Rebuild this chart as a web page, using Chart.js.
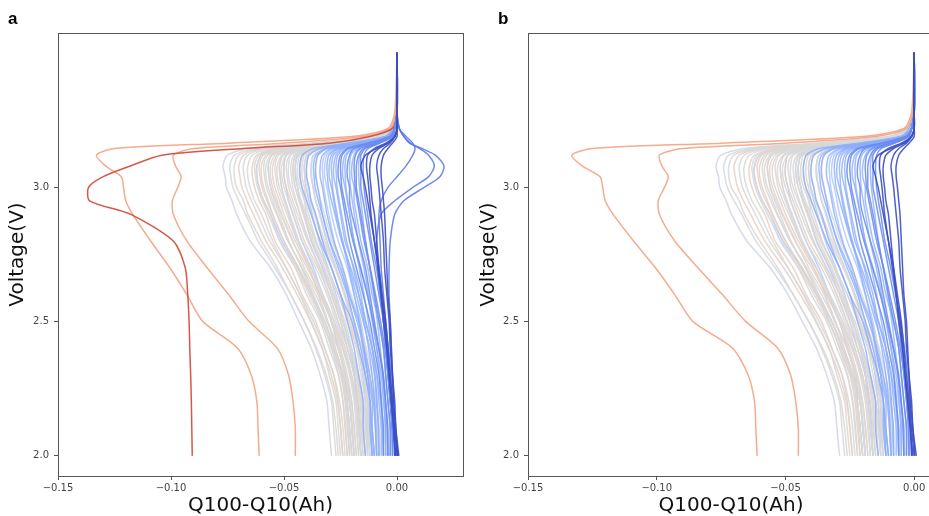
<!DOCTYPE html>
<html>
<head>
<meta charset="utf-8">
<script src="https://cdn.jsdelivr.net/npm/chart.js@4.4.1/dist/chart.umd.min.js"></script>
<style>
  html, body { margin: 0; padding: 0; background: #fff; }
  body { width: 929px; height: 516px; overflow: hidden; position: relative; }
  canvas { position: absolute; top: 0; }
  .tag { position: absolute; z-index: 2; font: bold 17px "Liberation Sans", Arial, sans-serif; line-height: 17px; color: #000; }
</style>
</head>
<body>
<canvas id="panelA" width="470" height="516" style="left:0"></canvas>
<canvas id="panelB" width="462" height="516" style="left:478px"></canvas>
<div class="tag" style="left:8px;top:10px">a</div>
<div class="tag" style="left:498px;top:10px">b</div>
<script>
// voltage steps shared by every discharge curve (top of the sweep to cut-off)
const voltage = [3.50, 3.28, 3.22, 3.19, 3.165, 3.145, 3.12, 3.08, 3.04, 3.00, 2.95, 2.90, 2.80, 2.70, 2.60, 2.50, 2.40, 2.30, 2.20, 2.10, 2.00];

const xTickValues = [-0.15, -0.10, -0.05, 0.00];
const yTickValues = [2.0, 2.5, 3.0];

// Q100 - Q10 (Ah) at each voltage step, one row per cell
const redCurve = [0, 0, -0.002, -0.012, -0.030, -0.068, -0.104, -0.118, -0.130, -0.1365, -0.136, -0.118, -0.099, -0.0937, -0.0926, -0.092, -0.0917, -0.0913, -0.091, -0.0908, -0.0906];

const salmonCurves = [
  [0, -0.001, -0.004, -0.020, -0.075, -0.125, -0.133, -0.129, -0.122, -0.121, -0.120, -0.117, -0.109, -0.1005, -0.093, -0.086, -0.0705, -0.0645, -0.062, -0.0615, -0.061],
  [0, -0.0005, -0.003, -0.015, -0.050, -0.090, -0.099, -0.098, -0.0955, -0.097, -0.0994, -0.099, -0.093, -0.084, -0.0745, -0.0655, -0.053, -0.048, -0.046, -0.045, -0.045]
];

const overshootCurves = [
  [0, 0, 0.001, 0.003, 0.0055, 0.011, 0.017, 0.0208, 0.019, 0.012, 0.003, -0.001, -0.003, -0.0035, -0.0035, -0.003, -0.0025, -0.002, -0.0015, -0.001, 0.0005],
  [0, 0, 0.001, 0.003, 0.006, 0.010, 0.014, 0.0165, 0.014, 0.007, -0.001, -0.007, -0.009, -0.0085, -0.0075, -0.006, -0.005, -0.004, -0.003, -0.002, -0.0005],
  [0, 0, 0.001, 0.004, 0.007, 0.008, 0.007, 0.004, 0.000, -0.004, -0.007, -0.008, -0.0075, -0.007, -0.006, -0.005, -0.004, -0.003, -0.002, -0.001, 0.0002]
];

const deepBlueCurves = [
  [0, 0, 0, -0.001, -0.004, -0.008, -0.011, -0.012, -0.012, -0.0115, -0.011, -0.010, -0.009, -0.008, -0.007, -0.0055, -0.0045, -0.0035, -0.0025, -0.0015, -0.001],
  [0, 0, 0, -0.001, -0.005, -0.010, -0.013, -0.0135, -0.013, -0.0125, -0.012, -0.0115, -0.010, -0.0085, -0.007, -0.006, -0.0045, -0.0035, -0.0025, -0.0015, -0.0005],
  [0, 0, 0, -0.001, -0.003, -0.006, -0.008, -0.009, -0.0085, -0.008, -0.0075, -0.007, -0.006, -0.0055, -0.0045, -0.0035, -0.003, -0.002, -0.0015, -0.0005, 0.0003],
  [0, 0, 0, -0.001, -0.004, -0.009, -0.014, -0.016, -0.015, -0.014, -0.013, -0.012, -0.010, -0.008, -0.0065, -0.005, -0.004, -0.003, -0.002, -0.001, 0],
  [0, 0, 0, 0, -0.002, -0.004, -0.006, -0.007, -0.007, -0.0065, -0.006, -0.0055, -0.005, -0.0045, -0.004, -0.003, -0.0025, -0.002, -0.001, -0.0005, 0.0008]
];

const midBlueCurves = [
  [0, 0, -0.001, -0.003, -0.013, -0.022, -0.025, -0.026, -0.026, -0.025, -0.024, -0.023, -0.021, -0.018, -0.015, -0.012, -0.010, -0.008, -0.007, -0.006, -0.006],
  [0, 0, -0.001, -0.003, -0.011, -0.019, -0.021, -0.022, -0.022, -0.021, -0.021, -0.020, -0.017, -0.014, -0.012, -0.010, -0.008, -0.006, -0.005, -0.004, -0.004],
  [0, 0, -0.001, -0.002, -0.009, -0.015, -0.017, -0.018, -0.018, -0.018, -0.017, -0.016, -0.014, -0.012, -0.010, -0.008, -0.006, -0.005, -0.004, -0.003, -0.003],
  [0, 0, -0.001, -0.002, -0.008, -0.014, -0.016, -0.016, -0.016, -0.016, -0.015, -0.014, -0.012, -0.010, -0.008, -0.006, -0.005, -0.004, -0.003, -0.002, -0.002],
  [0, 0, -0.001, -0.0033, -0.0125, -0.0213, -0.0243, -0.025, -0.0248, -0.0244, -0.0233, -0.0221, -0.0195, -0.0162, -0.0132, -0.0105, -0.0082, -0.0063, -0.0051, -0.0044, -0.004],
  [0, 0, -0.001, -0.0025, -0.0095, -0.0162, -0.0184, -0.019, -0.0188, -0.0185, -0.0176, -0.0166, -0.0146, -0.0119, -0.0095, -0.0073, -0.0054, -0.0039, -0.0029, -0.0023, -0.002],
  [0, 0, -0.001, -0.002, -0.0075, -0.0128, -0.0146, -0.015, -0.0149, -0.0146, -0.0139, -0.013, -0.0114, -0.0091, -0.0072, -0.0053, -0.0038, -0.0025, -0.0017, -0.0013, -0.001]
];

const blueCurves = [
  [0, 0, -0.001, -0.005, -0.020, -0.034, -0.039, -0.040, -0.040, -0.039, -0.038, -0.036, -0.033, -0.029, -0.025, -0.022, -0.019, -0.017, -0.015, -0.015, -0.014],
  [0, 0, -0.001, -0.005, -0.018, -0.031, -0.035, -0.036, -0.036, -0.035, -0.034, -0.033, -0.030, -0.026, -0.022, -0.019, -0.016, -0.014, -0.012, -0.012, -0.011],
  [0, 0, -0.001, -0.004, -0.017, -0.029, -0.033, -0.034, -0.034, -0.033, -0.032, -0.031, -0.028, -0.024, -0.021, -0.017, -0.015, -0.013, -0.011, -0.011, -0.010],
  [0, 0, -0.001, -0.004, -0.015, -0.026, -0.029, -0.030, -0.030, -0.029, -0.028, -0.027, -0.024, -0.021, -0.018, -0.015, -0.012, -0.010, -0.009, -0.008, -0.008],
  [0, 0, -0.001, -0.004, -0.014, -0.024, -0.027, -0.028, -0.028, -0.027, -0.026, -0.025, -0.023, -0.019, -0.016, -0.014, -0.011, -0.009, -0.008, -0.007, -0.007],
  [0, 0, -0.001, -0.003, -0.012, -0.020, -0.023, -0.024, -0.024, -0.023, -0.022, -0.021, -0.019, -0.016, -0.013, -0.011, -0.009, -0.007, -0.006, -0.005, -0.005],
  [0, 0, -0.001, -0.003, -0.010, -0.017, -0.019, -0.020, -0.020, -0.019, -0.019, -0.018, -0.016, -0.013, -0.011, -0.008, -0.006, -0.005, -0.004, -0.003, -0.003],
  [0, 0, -0.002, -0.005, -0.022, -0.037, -0.042, -0.043, -0.043, -0.042, -0.040, -0.038, -0.034, -0.029, -0.025, -0.020, -0.017, -0.014, -0.012, -0.011, -0.010],
  [0, 0, -0.001, -0.0048, -0.0185, -0.0315, -0.0359, -0.037, -0.0367, -0.0362, -0.0348, -0.0331, -0.0297, -0.0252, -0.0213, -0.0177, -0.0146, -0.0121, -0.0104, -0.0096, -0.009],
  [0, 0, -0.001, -0.004, -0.0155, -0.0264, -0.0301, -0.031, -0.0308, -0.0303, -0.029, -0.0275, -0.0245, -0.0205, -0.017, -0.0138, -0.011, -0.0088, -0.0073, -0.0065, -0.006],
  [0, 0, -0.001, -0.0038, -0.0145, -0.0247, -0.0281, -0.029, -0.0288, -0.0285, -0.0276, -0.0265, -0.0243, -0.0214, -0.0189, -0.0166, -0.0146, -0.013, -0.0119, -0.0114, -0.011],
  [0, 0, -0.001, -0.0035, -0.0135, -0.023, -0.0262, -0.027, -0.0268, -0.0265, -0.0256, -0.0245, -0.0223, -0.0194, -0.0169, -0.0146, -0.0126, -0.011, -0.0099, -0.0094, -0.009],
  [0, 0, -0.001, -0.003, -0.0115, -0.0196, -0.0223, -0.023, -0.0229, -0.0226, -0.0218, -0.0209, -0.0191, -0.0167, -0.0146, -0.0127, -0.011, -0.0097, -0.0088, -0.0083, -0.008],
  [0, 0, -0.001, -0.0027, -0.0105, -0.0179, -0.0204, -0.021, -0.0209, -0.0206, -0.0198, -0.0189, -0.0171, -0.0147, -0.0126, -0.0107, -0.009, -0.0077, -0.0068, -0.0063, -0.006],
  [0, 0, -0.001, -0.0022, -0.0085, -0.0145, -0.0165, -0.017, -0.0169, -0.0166, -0.016, -0.0153, -0.0139, -0.012, -0.0103, -0.0087, -0.0074, -0.0063, -0.0056, -0.0052, -0.005]
];

const paleBlueCurves = [
  [0, 0, -0.002, -0.008, -0.031, -0.053, -0.060, -0.062, -0.062, -0.061, -0.059, -0.056, -0.051, -0.044, -0.038, -0.032, -0.028, -0.024, -0.021, -0.020, -0.019],
  [0, 0, -0.002, -0.006, -0.023, -0.038, -0.044, -0.045, -0.045, -0.044, -0.043, -0.041, -0.038, -0.033, -0.029, -0.025, -0.022, -0.019, -0.018, -0.017, -0.016],
  [0, 0, -0.001, -0.005, -0.019, -0.032, -0.037, -0.038, -0.038, -0.037, -0.036, -0.034, -0.031, -0.027, -0.023, -0.020, -0.017, -0.015, -0.013, -0.013, -0.012],
  [0, 0, -0.001, -0.004, -0.016, -0.027, -0.031, -0.032, -0.032, -0.031, -0.030, -0.029, -0.026, -0.022, -0.019, -0.016, -0.014, -0.012, -0.010, -0.009, -0.009],
  [0, 0, -0.002, -0.006, -0.025, -0.043, -0.049, -0.050, -0.050, -0.049, -0.048, -0.046, -0.042, -0.037, -0.033, -0.029, -0.026, -0.023, -0.022, -0.021, -0.020],
  [0, 0, -0.001, -0.0053, -0.0205, -0.0349, -0.0398, -0.041, -0.0408, -0.0403, -0.039, -0.0375, -0.0345, -0.0305, -0.027, -0.0238, -0.021, -0.0188, -0.0173, -0.0165, -0.016],
  [0, 0, -0.001, -0.0043, -0.0165, -0.028, -0.032, -0.033, -0.0328, -0.0324, -0.0314, -0.0302, -0.0278, -0.0246, -0.0218, -0.0192, -0.017, -0.0152, -0.014, -0.0134, -0.013]
];

const warmGreyCurves = [
  [0, 0, -0.002, -0.008, -0.032, -0.054, -0.062, -0.064, -0.064, -0.063, -0.061, -0.058, -0.054, -0.047, -0.042, -0.036, -0.032, -0.028, -0.026, -0.025, -0.024],
  [0, 0, -0.002, -0.008, -0.030, -0.051, -0.058, -0.060, -0.060, -0.059, -0.057, -0.055, -0.050, -0.044, -0.038, -0.033, -0.029, -0.025, -0.023, -0.022, -0.021],
  [0, 0, -0.002, -0.007, -0.028, -0.047, -0.053, -0.055, -0.055, -0.054, -0.052, -0.050, -0.045, -0.039, -0.034, -0.029, -0.025, -0.022, -0.020, -0.019, -0.018],
  [0, 0, -0.002, -0.007, -0.025, -0.043, -0.049, -0.050, -0.050, -0.049, -0.047, -0.045, -0.041, -0.035, -0.030, -0.026, -0.022, -0.019, -0.017, -0.016, -0.015],
  [0, 0, -0.002, -0.006, -0.021, -0.036, -0.041, -0.042, -0.042, -0.041, -0.040, -0.038, -0.034, -0.029, -0.025, -0.021, -0.017, -0.014, -0.013, -0.012, -0.011],
  [0, 0, -0.003, -0.009, -0.035, -0.0595, -0.0679, -0.070, -0.0695, -0.0686, -0.0663, -0.0636, -0.058, -0.0507, -0.0442, -0.0383, -0.0332, -0.0291, -0.0263, -0.0249, -0.024],
  [0, 0, -0.002, -0.0079, -0.0305, -0.0519, -0.0592, -0.061, -0.0606, -0.0597, -0.0576, -0.0551, -0.0501, -0.0434, -0.0375, -0.032, -0.0274, -0.0236, -0.0211, -0.0198, -0.019],
  [0, 0, -0.002, -0.0074, -0.0285, -0.0485, -0.0553, -0.057, -0.0566, -0.0558, -0.0537, -0.0513, -0.0463, -0.0398, -0.034, -0.0287, -0.0242, -0.0205, -0.0181, -0.0168, -0.016],
  [0, 0, -0.002, -0.0068, -0.026, -0.0442, -0.0504, -0.052, -0.0517, -0.0511, -0.0495, -0.0477, -0.0439, -0.039, -0.0346, -0.0306, -0.0272, -0.0244, -0.0226, -0.0216, -0.021],
  [0, 0, -0.002, -0.006, -0.023, -0.0391, -0.0446, -0.046, -0.0457, -0.045, -0.0434, -0.0415, -0.0377, -0.0326, -0.0281, -0.0239, -0.0204, -0.0175, -0.0156, -0.0146, -0.014]
];

const greyCurves = [
  [0, 0, -0.003, -0.009, -0.036, -0.061, -0.070, -0.072, -0.072, -0.071, -0.068, -0.066, -0.060, -0.053, -0.047, -0.041, -0.036, -0.032, -0.029, -0.028, -0.027],
  [0, 0, -0.002, -0.009, -0.033, -0.056, -0.064, -0.066, -0.066, -0.065, -0.063, -0.060, -0.055, -0.049, -0.043, -0.038, -0.033, -0.030, -0.027, -0.026, -0.025],
  [0, 0, -0.002, -0.008, -0.031, -0.053, -0.060, -0.062, -0.062, -0.061, -0.059, -0.056, -0.052, -0.045, -0.040, -0.034, -0.030, -0.026, -0.024, -0.023, -0.022],
  [0, 0, -0.002, -0.008, -0.029, -0.049, -0.056, -0.058, -0.058, -0.057, -0.055, -0.053, -0.048, -0.042, -0.037, -0.032, -0.028, -0.024, -0.022, -0.021, -0.020],
  [0, 0, -0.002, -0.007, -0.028, -0.048, -0.054, -0.056, -0.056, -0.055, -0.053, -0.051, -0.046, -0.041, -0.035, -0.031, -0.026, -0.023, -0.021, -0.020, -0.019],
  [0, 0, -0.002, -0.007, -0.027, -0.045, -0.051, -0.053, -0.053, -0.052, -0.050, -0.048, -0.044, -0.038, -0.033, -0.028, -0.024, -0.021, -0.019, -0.018, -0.017],
  [0, 0, -0.002, -0.007, -0.026, -0.043, -0.049, -0.051, -0.051, -0.050, -0.048, -0.046, -0.042, -0.036, -0.031, -0.027, -0.023, -0.020, -0.018, -0.017, -0.016],
  [0, 0, -0.002, -0.006, -0.024, -0.041, -0.047, -0.048, -0.048, -0.047, -0.045, -0.043, -0.039, -0.034, -0.029, -0.025, -0.021, -0.018, -0.016, -0.015, -0.014],
  [0, 0, -0.002, -0.006, -0.023, -0.039, -0.045, -0.046, -0.046, -0.045, -0.043, -0.041, -0.037, -0.032, -0.028, -0.023, -0.020, -0.017, -0.015, -0.014, -0.013],
  [0, 0, -0.002, -0.006, -0.022, -0.037, -0.043, -0.044, -0.044, -0.043, -0.041, -0.040, -0.036, -0.031, -0.026, -0.022, -0.018, -0.016, -0.014, -0.013, -0.012],
  [0, 0, -0.002, -0.005, -0.020, -0.034, -0.039, -0.040, -0.040, -0.039, -0.038, -0.036, -0.032, -0.027, -0.023, -0.019, -0.016, -0.013, -0.012, -0.011, -0.010],
  [0, 0, -0.003, -0.010, -0.037, -0.063, -0.072, -0.074, -0.0735, -0.0726, -0.070, -0.067, -0.0615, -0.054, -0.047, -0.041, -0.0356, -0.0313, -0.0284, -0.027, -0.026],
  [0, 0, -0.003, -0.009, -0.034, -0.058, -0.066, -0.068, -0.0676, -0.0667, -0.0644, -0.0617, -0.0563, -0.0491, -0.0428, -0.037, -0.032, -0.028, -0.0253, -0.0239, -0.023],
  [0, 0, -0.002, -0.008, -0.0315, -0.0536, -0.0611, -0.063, -0.0626, -0.0617, -0.0596, -0.057, -0.0518, -0.0449, -0.0389, -0.0333, -0.0286, -0.0247, -0.0222, -0.0209, -0.020],
  [0, 0, -0.002, -0.0077, -0.0295, -0.050, -0.0572, -0.059, -0.0586, -0.0578, -0.0557, -0.0533, -0.0483, -0.0418, -0.036, -0.0307, -0.0262, -0.0225, -0.0201, -0.0188, -0.018],
  [0, 0, -0.002, -0.0074, -0.0285, -0.0485, -0.0553, -0.057, -0.0567, -0.056, -0.0542, -0.0521, -0.0479, -0.0423, -0.0374, -0.0329, -0.029, -0.0259, -0.0238, -0.0227, -0.022],
  [0, 0, -0.002, -0.007, -0.027, -0.0459, -0.0524, -0.054, -0.0536, -0.0529, -0.051, -0.0487, -0.0441, -0.038, -0.0327, -0.0278, -0.0236, -0.0202, -0.0179, -0.0168, -0.016],
  [0, 0, -0.002, -0.0068, -0.026, -0.0442, -0.0504, -0.052, -0.0517, -0.051, -0.0494, -0.0474, -0.0434, -0.0381, -0.0335, -0.0292, -0.0256, -0.0226, -0.0207, -0.0197, -0.019],
  [0, 0, -0.002, -0.0064, -0.0245, -0.0417, -0.0475, -0.049, -0.0486, -0.0479, -0.0461, -0.044, -0.0396, -0.0339, -0.0288, -0.0242, -0.0202, -0.017, -0.0148, -0.0137, -0.013],
  [0, 0, -0.002, -0.0061, -0.0235, -0.040, -0.0456, -0.047, -0.0467, -0.0461, -0.0446, -0.0428, -0.0392, -0.0344, -0.0302, -0.0263, -0.023, -0.0203, -0.0185, -0.0176, -0.017],
  [0, 0, -0.002, -0.0059, -0.0225, -0.0383, -0.0437, -0.045, -0.0447, -0.044, -0.0423, -0.0402, -0.0362, -0.0307, -0.026, -0.0215, -0.0178, -0.0147, -0.0127, -0.0117, -0.011],
  [0, 0, -0.002, -0.0056, -0.0215, -0.0366, -0.0417, -0.043, -0.0427, -0.0422, -0.0408, -0.0391, -0.0357, -0.0312, -0.0273, -0.0237, -0.0206, -0.0181, -0.0164, -0.0156, -0.015],
  [0, 0, -0.002, -0.0053, -0.0205, -0.0349, -0.0398, -0.041, -0.0407, -0.040, -0.0384, -0.0365, -0.0327, -0.0276, -0.0231, -0.0189, -0.0154, -0.0125, -0.0106, -0.0096, -0.009],
  [0, 0, -0.002, -0.0049, -0.019, -0.0323, -0.0369, -0.038, -0.0377, -0.0372, -0.0359, -0.0344, -0.0312, -0.0271, -0.0234, -0.0201, -0.0172, -0.0149, -0.0133, -0.0125, -0.012],
  [0, 0, -0.002, -0.0047, -0.018, -0.0306, -0.0349, -0.036, -0.0357, -0.0352, -0.0338, -0.0321, -0.0287, -0.0242, -0.0203, -0.0167, -0.0136, -0.0111, -0.0094, -0.0086, -0.008]
];

const blueGreyCurve = [0, 0, -0.003, -0.010, -0.038, -0.066, -0.075, -0.077, -0.076, -0.0755, -0.073, -0.071, -0.065, -0.056, -0.049, -0.0435, -0.038, -0.034, -0.031, -0.030, -0.029];

// coolwarm-like line colours per group
const palette = {
  red: 'rgba(212,78,64,0.95)',
  salmon: 'rgba(243,162,130,0.9)',
  blueGrey: 'rgba(212,217,232,0.95)',
  grey: 'rgba(216,216,216,0.88)',
  warmGrey: 'rgba(230,210,198,0.88)',
  paleBlue: 'rgba(170,198,252,0.8)',
  blue: 'rgba(140,174,252,0.8)',
  midBlue: 'rgba(106,140,240,0.88)',
  deepBlue: 'rgba(60,78,195,0.9)',
  overshoot: 'rgba(88,118,228,0.85)'
};

function toPoints(curve) {
  return curve.map((q, i) => ({ x: q, y: voltage[i] }));
}

function lineSets(curves, color) {
  return curves.map(c => ({
    data: toPoints(c),
    showLine: true,
    borderColor: color,
    borderWidth: 1.5,
    borderJoinStyle: 'round',
    borderCapStyle: 'round',
    pointRadius: 0,
    fill: false
  }));
}

// full box around the plot area
const framePlugin = {
  id: 'frame',
  afterDraw(chart) {
    const { ctx, chartArea: a } = chart;
    ctx.save();
    ctx.strokeStyle = '#555';
    ctx.lineWidth = 1;
    ctx.strokeRect(Math.round(a.left) + 0.5, Math.round(a.top) + 0.5, Math.round(a.right - a.left), Math.round(a.bottom - a.top));
    ctx.restore();
  }
};

function fmtX(v) {
  return (v < 0 ? '\u2212' : '') + Math.abs(v).toFixed(2);
}

function makePanel(id, datasets, xMax, yAxisWidth, yTitleGap, rightPad) {
  return new Chart(document.getElementById(id), {
    type: 'scatter',
    data: { datasets: datasets },
    options: {
      responsive: false,
      animation: false,
      events: [],
      layout: { padding: { top: 33, right: rightPad, bottom: 0, left: 0 } },
      plugins: { legend: { display: false }, tooltip: { enabled: false } },
      elements: { line: { tension: 0.25 } },
      scales: {
        x: {
          type: 'linear',
          min: -0.15,
          max: xMax,
          afterBuildTicks: s => { s.ticks = xTickValues.map(v => ({ value: v })); },
          afterFit: s => { s.height = 40; },
          border: { display: false },
          grid: { drawOnChartArea: false, tickLength: 4, tickColor: '#555' },
          ticks: { padding: 2, color: '#444', font: { family: 'DejaVu Sans', size: 10 }, callback: v => fmtX(v), maxRotation: 0 },
          title: { display: true, text: 'Q100-Q10(Ah)', color: '#111', padding: { top: 0, bottom: 0 }, font: { family: 'DejaVu Sans', size: 20, lineHeight: 1 } }
        },
        y: {
          type: 'linear',
          min: 1.923,
          max: 3.576,
          afterBuildTicks: s => { s.ticks = yTickValues.map(v => ({ value: v })); },
          afterFit: s => { s.width = yAxisWidth; },
          border: { display: false },
          grid: { drawOnChartArea: false, tickLength: 4, tickColor: '#555' },
          ticks: { padding: 5, color: '#444', font: { family: 'DejaVu Sans', size: 10 }, callback: v => v.toFixed(1) },
          title: { display: true, text: 'Voltage(V)', color: '#111', padding: { top: yTitleGap, bottom: 0 }, font: { family: 'DejaVu Sans', size: 20, lineHeight: 1 } }
        }
      }
    },
    plugins: [framePlugin]
  });
}

// the first dataset is painted last: dark blue cells sit on top, pale blue ones under the grey mass
function panelSets(withOutliers) {
  return [].concat(
    lineSets(deepBlueCurves, palette.deepBlue),
    lineSets(midBlueCurves, palette.midBlue),
    withOutliers ? lineSets([redCurve], palette.red) : [],
    lineSets(salmonCurves, palette.salmon),
    withOutliers ? lineSets(overshootCurves, palette.overshoot) : [],
    lineSets(blueCurves, palette.blue),
    lineSets(greyCurves, palette.grey),
    lineSets(warmGreyCurves, palette.warmGrey),
    lineSets([blueGreyCurve], palette.blueGrey),
    lineSets(paleBlueCurves, palette.paleBlue)
  );
}

makePanel('panelA', panelSets(true), 0.0292, 58, 8, 7);
makePanel('panelB', panelSets(false), 0.0077, 50, 1, 6);
</script>
</body>
</html>
